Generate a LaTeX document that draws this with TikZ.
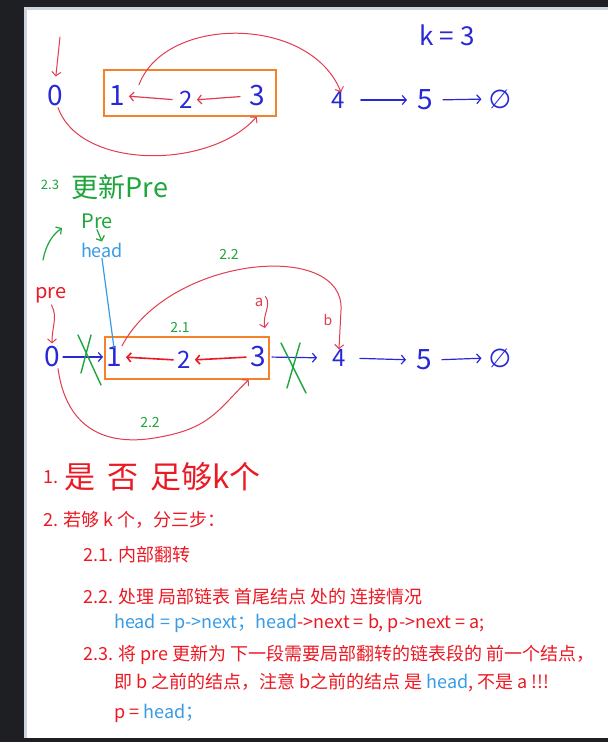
\documentclass[tikz,border=0pt]{standalone}
\usepackage{fontspec}
\setmainfont{Noto Sans CJK SC}
\newfontfamily\symfont{DejaVu Sans}
\usetikzlibrary{arrows.meta,positioning}

\definecolor{inkblue}{RGB}{40,40,215}
\definecolor{inkred}{RGB}{225,60,80}
\definecolor{pured}{RGB}{235,25,35}
\definecolor{inkgreen}{RGB}{30,165,60}
\definecolor{boxorange}{RGB}{245,130,40}
\definecolor{codeblue}{RGB}{55,155,230}
\definecolor{framedark}{RGB}{30,31,34}
\definecolor{frameedge}{RGB}{205,211,225}

\tikzset{
  digit/.style={text=inkblue, font=\fontsize{28}{30}\selectfont, inner sep=1pt},
  blkbox/.style={draw=boxorange, line width=1.3pt, inner sep=0pt},
  pen/.style={line width=1.2pt, line cap=round},
  barb/.style={-{Straight Barb[length=4pt,width=9pt]}},
  bluelink/.style={pen, inkblue, barb},
  redlink/.style={pen, pured, line width=1.6pt, barb, shorten <=3pt, shorten >=3pt},
  arc/.style={pen, inkred, line width=1pt, barb},
  cross/.style={inkgreen, line width=1.4pt, line cap=round},
  note/.style={anchor=west, inner sep=0pt, text=pured, font=\fontsize{18}{21}\selectfont},
  hand/.style={inner sep=1pt, font=\fontsize{#1}{#1}\selectfont},
}

\begin{document}
\begin{tikzpicture}[x=1pt, y=-1pt]
\useasboundingbox (0,0) rectangle (608,742);
% screen frame
\fill[framedark] (0,0) rectangle (608,742);
\fill[frameedge] (24,7) rectangle (608,738);
\fill[white] (27,10) rectangle (608,738);

% top: k = 3, first group
\node[hand=26, text=inkblue] (kval) at (447,35) {k = 3};
\node[blkbox, minimum width=172, minimum height=46] (blk1) at (190,93) {};
\node[digit] (t0) at (55,96) {0};
\node[digit] (t1) at (117,96) {1};
\node[digit, font=\fontsize{24}{26}\selectfont] (t2) at (186,100) {2};
\node[digit] (t3) at (257,96) {3};
\node[digit, font=\fontsize{24}{26}\selectfont] (t4) at (338,100) {4};
\node[digit] (t5) at (425,100) {5};
\node[digit, font=\fontsize{26}{28}\symfont] (tnil) at (500,99) {∅};
\coordinate (tdown) at (60,37);
\draw[arc, shorten >=8pt] (tdown) -- (t0.north);
\draw[pen, inkred, barb, shorten <=6pt, shorten >=3pt] (t2.west) -- (t1.east);
\draw[pen, inkred, barb, shorten <=8pt, shorten >=3pt] (t3.west) -- (t2.east);
\draw[bluelink, shorten <=15pt, shorten >=9pt] (t4.east) -- (t5.west);
\draw[bluelink, shorten <=9pt, shorten >=6pt] (t5.east) -- (tnil.west);
\draw[arc] ([xshift=22pt]t1.north) .. controls (165,15) and (310,15) .. ([xshift=3pt, yshift=-2pt]t4.north);
\draw[arc] ([xshift=3pt]t0.south) .. controls (80,170) and (210,170) .. ([xshift=-20pt]blk1.south east);

% middle: three steps on the list
\node[hand=13, text=inkgreen] (s23lbl) at (50,185) {2.3};
\node[hand=27, text=inkgreen] (upd) at (120,187) {更新Pre};
\node[hand=20, text=inkgreen] (pre2) at (97,221) {Pre};
\node[hand=18, text=codeblue] (head) at (102,250) {head};
\draw[pen, inkgreen, barb] (pre2.south) -- (head.north);
\coordinate (gup1) at (43,260);
\coordinate (gup2) at (62,228);
\draw[pen, inkgreen, barb] (gup1) .. controls (46,245) and (52,235) .. (gup2);

\node[blkbox, minimum width=164, minimum height=42] (blk2) at (187,358) {};
\node[digit] (m0) at (52,357) {0};
\node[digit] (m1) at (114,357) {1};
\node[digit, font=\fontsize{24}{26}\selectfont] (m2) at (184,360) {2};
\node[digit] (m3) at (258,357) {3};
\node[digit, font=\fontsize{24}{26}\selectfont] (m4) at (339,358) {4};
\node[digit] (m5) at (424,360) {5};
\node[digit, font=\fontsize{26}{28}\symfont] (mnil) at (500,358) {∅};
\draw[pen, codeblue] (head.south) -- ([yshift=-2pt]m1.north);
\draw[bluelink, shorten <=2pt, shorten >=2pt] (m0.east) -- (m1.west);
\draw[redlink] (m2.west) -- (m1.east);
\draw[redlink] (m3.west) -- (m2.east);
\draw[bluelink, shorten <=5pt, shorten >=14pt] (m3.east) -- (m4.west);
\draw[bluelink, shorten <=13pt, shorten >=9pt] (m4.east) -- (m5.west);
\draw[bluelink, shorten <=9pt, shorten >=6pt] (m5.east) -- (mnil.west);

\node[hand=20, text=pured] (prelbl) at (51,295) {pre};
\draw[arc, shorten <=1pt, shorten >=2pt] (prelbl.south) .. controls (58,318) and (52,325) .. (m0.north);
\node[hand=14, text=inkgreen] (s21lbl) at (180,328) {2.1};
\node[hand=15, text=inkred] (alab) at (259,302) {a};
\coordinate (apt) at (265,328);
\draw[arc] ([xshift=1pt]alab.north east) .. controls (272,305) and (262,315) .. (apt);
\node[hand=14, text=inkred] (blab) at (328,320) {b};
\node[hand=14, text=inkgreen] (s22top) at (229,255) {2.2};
\node[hand=14, text=inkgreen] (s22bot) at (150,423) {2.2};
\coordinate (bturn) at (341,310);
\draw[arc] ([xshift=8pt]m1.north) .. controls (170,255) and (345,240) .. (bturn) -- ([yshift=-1pt]m4.north);
\draw[arc] ([xshift=6pt]m0.south) .. controls (68,440) and (120,445) .. (160,437) .. controls (210,428) and (218,410) .. ([xshift=-21pt]blk2.south east);

% broken links
\draw[cross] (78,335) -- (101,385);
\draw[cross] (91,335) -- (81,373);
\draw[cross] (281,343) -- (306,393);
\draw[cross] (300,343) -- (287,388);

% bottom: written steps
\node[note] (s1) at (43,477) {1.};
\node[hand=31, text=pured, anchor=west] (s1hand) at (63,477) {是 \,否 \,足够k个};
\node[note] (s2) at (43,520) {2. 若够 k 个，分三步：};
\node[note] (s21) at (83,555) {2.1. 内部翻转};
\node[note] (s22) at (83,597) {2.2. 处理 局部链表 首尾结点 处的 连接情况};
\node[note] (s22code) at (114,623) {\textcolor{codeblue}{head = p->next；head}->next = b, p->next = a;};
\node[note] (s23) at (83,655) {2.3. 将 pre 更新为 下一段需要局部翻转的链表段的 前一个结点，};
\node[note] (s23b) at (114,683) {即 b 之前的结点，注意 b之前的结点 是 \textcolor{codeblue}{head}, 不是 a !!!};
\node[note] (s23c) at (114,713) {p = \textcolor{codeblue}{head；}};
\end{tikzpicture}
\end{document}
